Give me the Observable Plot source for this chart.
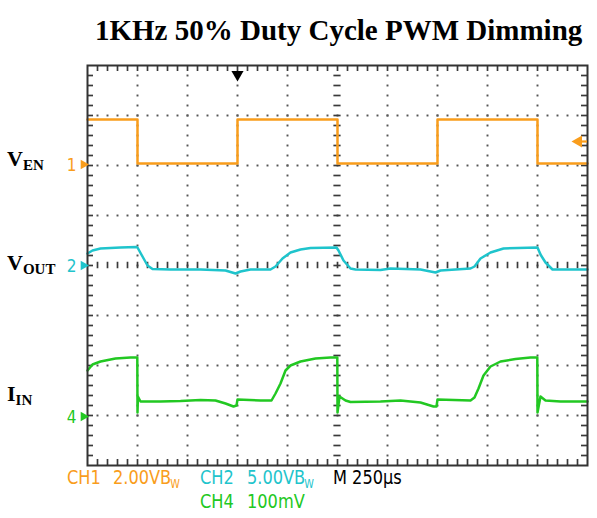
<!DOCTYPE html>
<html><head><meta charset="utf-8">
<script src="https://cdn.jsdelivr.net/npm/d3@7"></script>
<script src="https://cdn.jsdelivr.net/npm/@observablehq/plot@0.6"></script>
<style>
body{margin:0;background:#fff;}
#wrap{width:597px;height:518px;overflow:hidden;position:relative}
#title{position:relative;height:55px;}
#title span{position:absolute;left:95px;top:15.7px;font:bold 29px "Liberation Serif","Times New Roman",serif;line-height:1;white-space:nowrap;color:#000}
#legend{position:relative;height:51px;font-family:"Liberation Sans Narrow","DejaVu Sans Condensed","DejaVu Sans",sans-serif;font-stretch:condensed;font-size:20px;line-height:1;}
#legend span{position:absolute;white-space:nowrap;transform:scaleX(0.9);transform-origin:0 0}
#legend sub{font-size:12px;vertical-align:-4px;margin-left:-1px}
svg{display:block}
</style></head>
<body><div id="wrap">
<div id="title"><span>1KHz 50% Duty Cycle PWM Dimming</span></div>
<div id="chart"></div>
<div id="legend"></div>
</div>
<script>
// Time in µs (M 250µs/div), values in screen divisions (centre = 0)
const ch1Time = [0, 250, 250, 750, 750, 1250, 1250, 1750, 1750, 2250, 2250, 2500];
const ch1Div  = [2.92, 2.92, 2.04, 2.04, 2.92, 2.92, 2.04, 2.04, 2.92, 2.92, 2.04, 2.04];

const ch2Time = [0, 25, 65, 165, 245, 250, 275, 300, 325, 415, 565, 690, 740, 765, 815, 915, 940, 975, 1015, 1065, 1115, 1245, 1255, 1280, 1315, 1340, 1465, 1515, 1665, 1740, 1765, 1915, 1935, 1965, 2015, 2080, 2250, 2265, 2290, 2325, 2490, 2500];
const ch2Div  = [0.24, 0.30, 0.34, 0.36, 0.37, 0.36, 0.18, 0.0, -0.07, -0.08, -0.08, -0.10, -0.16, -0.12, -0.08, -0.08, -0.02, 0.14, 0.26, 0.32, 0.35, 0.36, 0.30, 0.10, -0.06, -0.08, -0.09, -0.06, -0.08, -0.14, -0.10, -0.06, -0.02, 0.14, 0.26, 0.34, 0.36, 0.22, 0.06, -0.08, -0.08, -0.08];

const ch4Time = [0, 25, 65, 140, 215, 249, 250, 252, 265, 365, 465, 565, 640, 690, 730, 745, 750, 865, 920, 940, 965, 990, 1015, 1065, 1140, 1215, 1249, 1250, 1260, 1290, 1315, 1465, 1565, 1665, 1730, 1745, 1750, 1915, 1935, 1955, 1980, 2015, 2065, 2140, 2215, 2249, 2250, 2265, 2290, 2365, 2490, 2500];
const ch4Div  = [-2.10, -1.98, -1.92, -1.86, -1.84, -1.84, -2.94, -2.62, -2.72, -2.72, -2.71, -2.69, -2.70, -2.76, -2.82, -2.80, -2.68, -2.70, -2.70, -2.56, -2.36, -2.10, -2.00, -1.92, -1.86, -1.84, -1.84, -2.94, -2.62, -2.70, -2.73, -2.72, -2.70, -2.74, -2.82, -2.82, -2.68, -2.70, -2.64, -2.46, -2.20, -2.02, -1.92, -1.87, -1.84, -1.84, -2.94, -2.62, -2.70, -2.72, -2.72, -2.72];

const channelNames   = ["1", "2", "4"];
const channelGround  = [2.02, 0, -3.02];
const channelColors  = ["#f99d1c", "#1fc4cc", "#22c822"];
const signalMain     = ["V", "V", "I"];
const signalSub      = ["EN", "OUT", "IN"];
const signalLabelDiv = [1.98, -0.1, -2.72];

const triggerTime = 750, triggerMarkDiv = 3.82, triggerLevelDiv = 2.48;

const ch1 = ch1Time.map((t, i) => ({t, v: ch1Div[i]}));
const ch2 = ch2Time.map((t, i) => ({t, v: ch2Div[i]}));
const ch4 = ch4Time.map((t, i) => ({t, v: ch4Div[i]}));
const markers = channelNames.map((n, i) => ({n, v: channelGround[i], c: channelColors[i]}));

// graticule
const minorT = d3.range(50, 2500, 50);
const minorV = d3.range(-3.8, 3.81, 0.2).map(v => +v.toFixed(2));
const majorT = [250, 500, 750, 1000, 1500, 1750, 2000, 2250];
const majorV = [-3, -2, -1, 1, 2, 3];
const gridDots = [];
for (const v of majorV) for (const t of minorT) gridDots.push({t, v});
for (const t of majorT) for (const v of minorV) gridDots.push({t, v});
const g = "#3a3a3a";

const plot = Plot.plot({
  width: 597, height: 412,
  marginLeft: 87, marginRight: 10, marginTop: 10, marginBottom: 2,
  x: {domain: [0, 2500], axis: null},
  y: {domain: [-4, 4], axis: null},
  marks: [
    Plot.dot(gridDots, {x: "t", y: "v", r: 1.1, fill: "#555", stroke: "none", symbol: "square"}),
    Plot.ruleX(minorT, {x: d => d, y1: -0.065, y2: 0.065, stroke: g, strokeWidth: 1.7}),
    Plot.ruleY(minorV, {y: d => d, x1: 1232, x2: 1268, stroke: g, strokeWidth: 1.7}),
    Plot.ruleX(minorT, {x: d => d, y1: 4, y2: 3.88, stroke: g, strokeWidth: 1.7}),
    Plot.ruleX(minorT, {x: d => d, y1: -4, y2: -3.88, stroke: g, strokeWidth: 1.7}),
    Plot.ruleY(minorV, {y: d => d, x1: 0, x2: 30, stroke: g, strokeWidth: 1.7}),
    Plot.ruleY(minorV, {y: d => d, x1: 2470, x2: 2500, stroke: g, strokeWidth: 1.7}),
    Plot.line(ch1, {x: "t", y: "v", stroke: channelColors[0], strokeWidth: 2.5, curve: "linear"}),
    Plot.line(ch2, {x: "t", y: "v", stroke: channelColors[1], strokeWidth: 2.5, curve: "linear"}),
    Plot.line(ch4, {x: "t", y: "v", stroke: channelColors[2], strokeWidth: 2.5, curve: "linear"}),
    Plot.frame({stroke: "#333", strokeWidth: 2}),
    Plot.dot([triggerTime], {x: d => d, y: triggerMarkDiv, symbol: "triangle", rotate: 180, r: 4.5, fill: "#000", stroke: "none"}),
    Plot.ruleY([triggerLevelDiv], {y: d => d, x1: 2455, x2: 2500, stroke: channelColors[0], strokeWidth: 2.2}),
    Plot.dot([triggerLevelDiv], {x: 2455, y: d => d, symbol: "triangle", rotate: -90, r: 4.5, fill: channelColors[0], stroke: "none"}),
    Plot.dot(markers, {x: 0, y: "v", symbol: "triangle", rotate: 90, r: 3.6, dx: -4, fill: "c", stroke: "none"}),
    Plot.text(markers, {x: 0, y: "v", text: "n", fill: "c", dx: -11, dy: 1, textAnchor: "end", fontSize: 17, fontFamily: "'Liberation Sans Narrow','DejaVu Sans Condensed',sans-serif"})
  ]
});
document.getElementById("chart").appendChild(plot);

// signal names with subscripts, placed through the y scale
const ys = plot.scale("y");
const svg = d3.select(plot);
signalMain.forEach((m, i) => {
  const t = svg.append("text")
    .attr("x", 7).attr("y", ys.apply(signalLabelDiv[i]))
    .attr("text-anchor", "start")
    .attr("font-family", "'Liberation Serif','Times New Roman',serif")
    .attr("font-weight", "bold").attr("fill", "#000");
  t.append("tspan").attr("font-size", 22).text(m);
  t.append("tspan").attr("font-size", 15).attr("dy", 4).text(signalSub[i]);
});

// scope readout below the chart
const legendRows = [
  {text: "CH1", color: channelColors[0], left: 67, top: 0},
  {text: "2.00VB<sub>W</sub>", color: channelColors[0], left: 113, top: 0},
  {text: "CH2", color: channelColors[1], left: 200, top: 0},
  {text: "5.00VB<sub>W</sub>", color: channelColors[1], left: 247, top: 0},
  {text: "M 250µs", color: "#000", left: 333, top: 0},
  {text: "CH4", color: channelColors[2], left: 200, top: 24},
  {text: "100mV", color: channelColors[2], left: 247, top: 24}
];
const lg = document.getElementById("legend");
for (const r of legendRows) {
  const s = document.createElement("span");
  s.innerHTML = r.text; s.style.color = r.color; s.style.left = r.left + "px"; s.style.top = r.top + "px";
  lg.appendChild(s);
}
</script>
</body></html>
